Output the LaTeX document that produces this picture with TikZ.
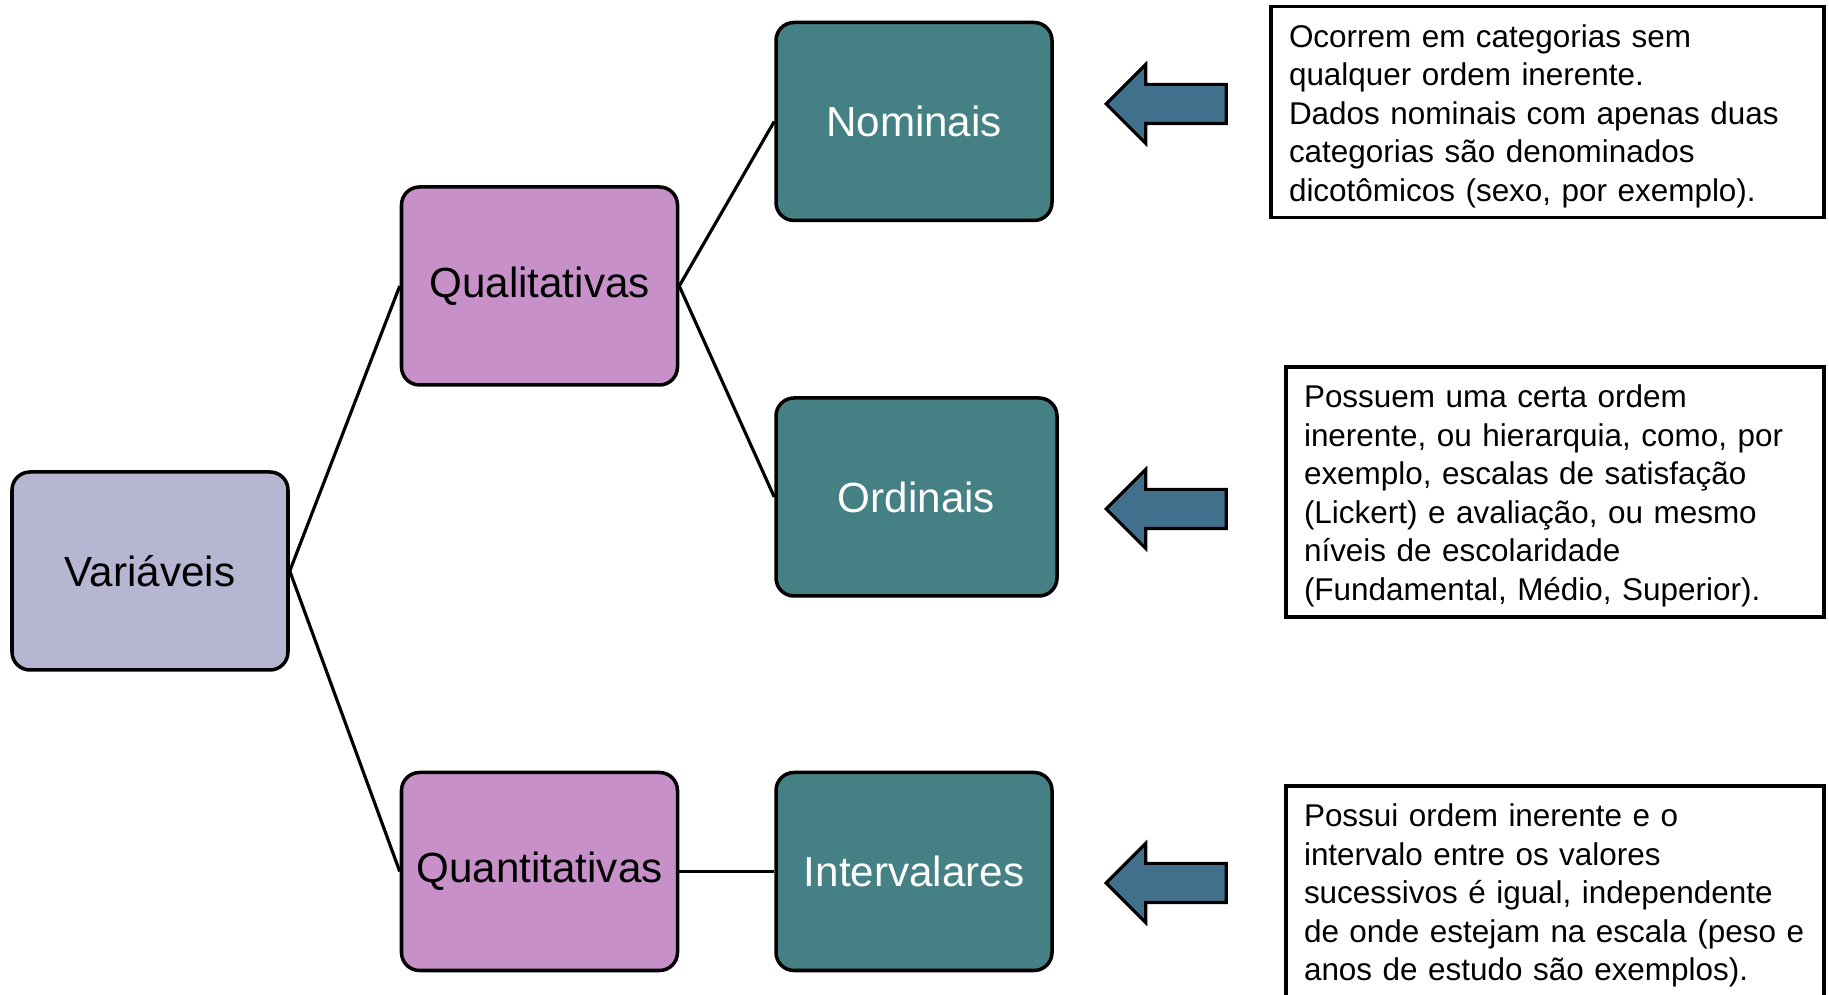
\documentclass[tikz,border=0pt]{standalone}
\usepackage{fontspec}
\setmainfont{Liberation Sans}
\usetikzlibrary{shapes.arrows}
\definecolor{lilasClaro}{HTML}{B6B6D3}
\definecolor{rosaUS}{HTML}{C890C8}
\definecolor{verdeAzul}{HTML}{458084}
\definecolor{azulSeta}{HTML}{41708D}

\begin{document}
\begin{tikzpicture}[
    caixa/.style={draw=black,line width=2pt,rounded corners=0.36cm,minimum width=5.52cm,minimum height=3.96cm,align=center,font=\fontsize{24}{28}\selectfont},
    nota/.style={draw=black,line width=1.8pt,inner xsep=0.36cm,align=left,minimum height=4.22cm,font=\fontsize{17.9}{21.9}\selectfont},
    seta/.style={single arrow,shape border rotate=180,draw=black,line width=1.8pt,fill=azulSeta,minimum height=2.4cm,inner xsep=0pt,inner ysep=0.36cm,single arrow head extend=0.4cm}]
    \useasboundingbox (0,0) rectangle (36.58,19.9);
    \clip (0,0) rectangle (36.58,19.9);
    \node[caixa,fill=lilasClaro] (var) at (3.0,8.48) {Variáveis};
    \node[caixa,fill=rosaUS] (qual) at (10.79,14.18) {Qualitativas};
    \node[caixa,fill=rosaUS] (quant) at (10.79,2.47) {Quantitativas};
    \node[caixa,fill=verdeAzul,text=white] (nom) at (18.28,17.47) {Nominais};
    \node[caixa,fill=verdeAzul,text=white,minimum width=5.62cm] (ord) at (18.33,9.96) {Ordinais};
    \node[caixa,fill=verdeAzul,text=white] (int) at (18.28,2.47) {Intervalares};
    \draw[line width=1.8pt] (var.east) -- (qual.west);
    \draw[line width=1.8pt] (var.east) -- (quant.west);
    \draw[line width=1.8pt] (qual.east) -- (nom.west);
    \draw[line width=1.8pt] (qual.east) -- (ord.west);
    \draw[line width=1.8pt] (quant.east) -- (int.west);
    \node[seta] (s1) at (23.52,17.82) {};
    \node[seta] (s2) at (23.52,9.72) {};
    \node[seta] (s3) at (23.52,2.24) {};
    \node[nota,text width=10.34cm] (n1) at (30.95,17.66)
      {\rule{0pt}{17.5pt}Ocorrem em categorias sem\\qualquer ordem inerente.\\Dados nominais com apenas duas\\categorias são denominados\\dicotômicos (sexo, por exemplo).};
    \node[nota,text width=10.04cm,minimum height=5.0cm] (n2) at (31.1,10.06)
      {\rule{0pt}{17.5pt}Possuem uma certa ordem\\inerente, ou hierarquia, como, por\\exemplo, escalas de satisfação\\(Lickert) e avaliação, ou mesmo\\níveis de escolaridade\\(Fundamental, Médio, Superior).};
    \node[nota,text width=10.04cm] (n3) at (31.1,2.07)
      {\rule{0pt}{17.5pt}Possui ordem inerente e o\\intervalo entre os valores\\sucessivos é igual, independente\\de onde estejam na escala (peso e\\anos de estudo são exemplos).};
  \end{tikzpicture}
\end{document}
